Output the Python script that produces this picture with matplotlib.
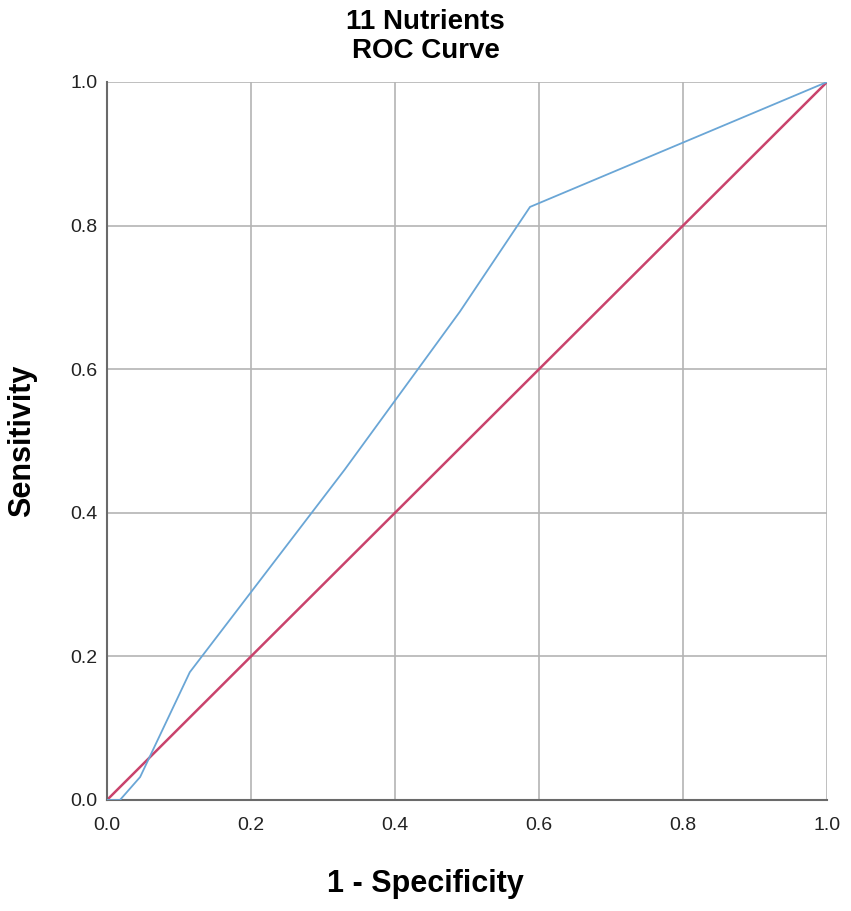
import matplotlib
matplotlib.use('Agg')
import matplotlib.pyplot as plt

plt.rcParams['font.family'] = ['Liberation Sans', 'DejaVu Sans']

# ROC curve
fpr = [0.0, 0.018, 0.046, 0.115, 0.33, 0.49, 0.5875, 1.0]
tpr = [0.0, 0.0, 0.032, 0.178, 0.46, 0.68, 0.826, 1.0]
ref_x = [0.0, 1.0]
ref_y = [0.0, 1.0]
ticks = [0.0, 0.2, 0.4, 0.6, 0.8, 1.0]
tick_labels = ['0.0', '0.2', '0.4', '0.6', '0.8', '1.0']

fig = plt.figure(figsize=(8.51, 9.11), dpi=100)
ax = fig.add_axes([107/851, 1 - 800/911, 720/851, 718/911])

ax.plot(fpr, tpr, color='#6aa6d6', lw=1.3, zorder=3)
ax.plot(ref_x, ref_y, color='#c9436c', lw=1.8, zorder=2)

ax.set_xlim(0, 1)
ax.set_ylim(0, 1)
ax.set_xticks(ticks)
ax.set_yticks(ticks)
ax.set_xticklabels(tick_labels)
ax.set_yticklabels(tick_labels)
ax.tick_params(length=0, labelsize=14, colors='#222222')
ax.tick_params(axis='x', pad=12)
ax.tick_params(axis='y', pad=7)
ax.grid(True, color='#b4b4b4', lw=1.2)
ax.set_axisbelow(True)

for s in ['top', 'right']:
    ax.spines[s].set_visible(False)
for s in ['left', 'bottom']:
    ax.spines[s].set_color('#6a6a6a')
    ax.spines[s].set_linewidth(1.5)

fig.text(0.5, 1 - 22/911, '11 Nutrients', ha='center', va='center',
         fontsize=20, fontweight='bold')
fig.text(0.5, 1 - 51/911, 'ROC Curve', ha='center', va='center',
         fontsize=20, fontweight='bold')
fig.text(0.5, 1 - 884/911, '1 - Specificity', ha='center', va='center',
         fontsize=22, fontweight='bold')
fig.text(22/851, 1 - 441/911, 'Sensitivity', ha='center', va='center',
         rotation=90, fontsize=22, fontweight='bold')

fig.savefig('out.png', dpi=100)
